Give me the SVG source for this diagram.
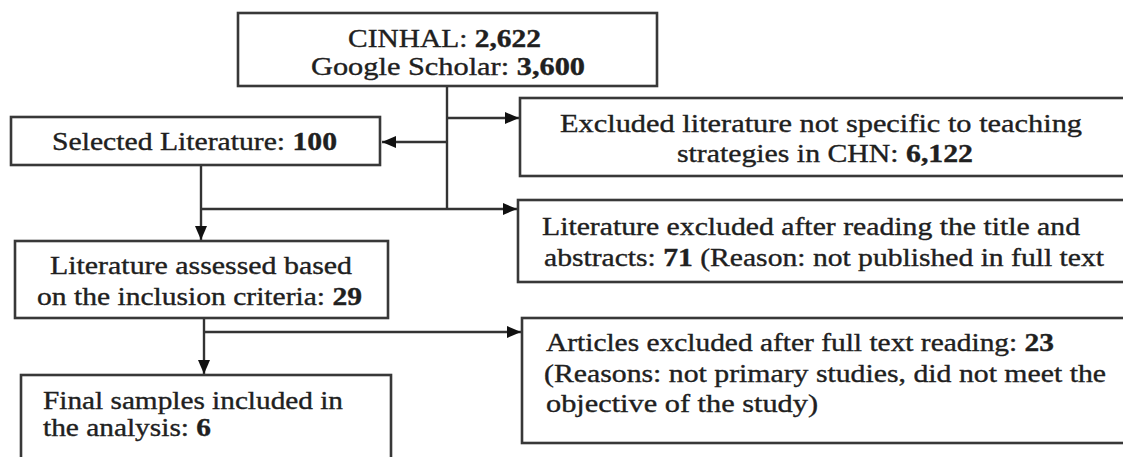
<svg xmlns="http://www.w3.org/2000/svg" width="1123" height="457" viewBox="0 0 1123 457">
<style>
.box{fill:#fff;stroke:#383838;stroke-width:2.6}
.t{font-family:"Liberation Serif","Times New Roman",serif;font-size:25px;fill:#202020;stroke:#202020;stroke-width:0.35}
.b{font-weight:bold}
.c{fill:none;stroke:#333;stroke-width:2.4}
</style>
<defs>
<marker id="ah" markerUnits="userSpaceOnUse" markerWidth="15" markerHeight="13" refX="14" refY="6" orient="auto">
<path d="M0,0 L14,6 L0,12 z" fill="#111"/>
</marker>
</defs>
<rect width="1123" height="457" fill="#fff"/>
<g id="connectors">
<line class="c" x1="447" y1="86" x2="447" y2="209"/>
<line class="c" x1="447" y1="142" x2="382" y2="142" marker-end="url(#ah)"/>
<line class="c" x1="447" y1="118" x2="519" y2="118" marker-end="url(#ah)"/>
<line class="c" x1="201" y1="165" x2="201" y2="240" marker-end="url(#ah)"/>
<line class="c" x1="201" y1="209" x2="517" y2="209" marker-end="url(#ah)"/>
<line class="c" x1="204" y1="318" x2="204" y2="374" marker-end="url(#ah)"/>
<line class="c" x1="204" y1="332" x2="521" y2="332" marker-end="url(#ah)"/>
</g>
<g id="n-sources">
<rect class="box" x="238" y="13" width="419" height="73"/>
<text class="t" x="348" y="47" textLength="193" lengthAdjust="spacingAndGlyphs">CINHAL: <tspan class="b">2,622</tspan></text>
<text class="t" x="311" y="75" textLength="274" lengthAdjust="spacingAndGlyphs">Google Scholar: <tspan class="b">3,600</tspan></text>
</g>
<g id="n-selected">
<rect class="box" x="11" y="117" width="369" height="48"/>
<text class="t" x="52" y="150" textLength="285" lengthAdjust="spacingAndGlyphs">Selected Literature: <tspan class="b">100</tspan></text>
</g>
<g id="n-excl1">
<rect class="box" x="520" y="98" width="606" height="78"/>
<text class="t" x="560" y="132" textLength="522" lengthAdjust="spacingAndGlyphs">Excluded literature not specific to teaching</text>
<text class="t" x="677" y="162" textLength="296" lengthAdjust="spacingAndGlyphs">strategies in CHN: <tspan class="b">6,122</tspan></text>
</g>
<g id="n-excl2">
<rect class="box" x="518" y="200" width="608" height="82"/>
<text class="t" x="542" y="235" textLength="538" lengthAdjust="spacingAndGlyphs">Literature excluded after reading the title and</text>
<text class="t" x="544" y="266" textLength="560" lengthAdjust="spacingAndGlyphs">abstracts: <tspan class="b">71</tspan> (Reason: not published in full text</text>
</g>
<g id="n-assessed">
<rect class="box" x="15" y="241" width="373" height="77"/>
<text class="t" x="50" y="274" textLength="302" lengthAdjust="spacingAndGlyphs">Literature assessed based</text>
<text class="t" x="37" y="305" textLength="325" lengthAdjust="spacingAndGlyphs">on the inclusion criteria: <tspan class="b">29</tspan></text>
</g>
<g id="n-excl3">
<rect class="box" x="522" y="318" width="604" height="125"/>
<text class="t" x="546" y="351" textLength="508" lengthAdjust="spacingAndGlyphs">Articles excluded after full text reading: <tspan class="b">23</tspan></text>
<text class="t" x="544" y="382" textLength="562" lengthAdjust="spacingAndGlyphs">(Reasons: not primary studies, did not meet the</text>
<text class="t" x="546" y="412" textLength="272" lengthAdjust="spacingAndGlyphs">objective of the study)</text>
</g>
<g id="n-final">
<rect class="box" x="21" y="375" width="370" height="90"/>
<text class="t" x="43" y="409" textLength="300" lengthAdjust="spacingAndGlyphs">Final samples included in</text>
<text class="t" x="43" y="436" textLength="168" lengthAdjust="spacingAndGlyphs">the analysis: <tspan class="b">6</tspan></text>
</g>
</svg>
